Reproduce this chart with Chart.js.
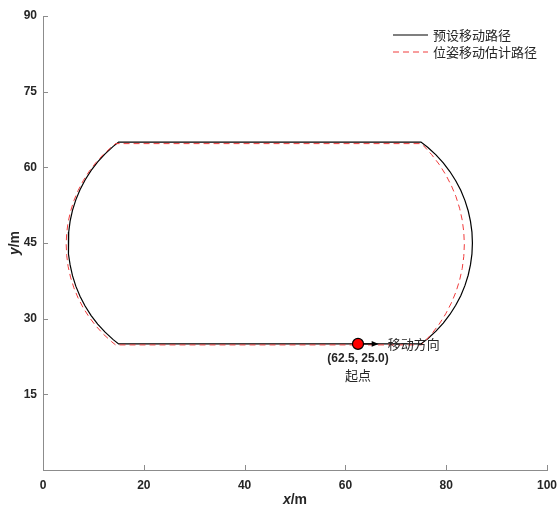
<!DOCTYPE html>
<html lang="zh">
<head>
<meta charset="UTF-8">
<title>移动路径</title>
<script src="https://cdn.jsdelivr.net/npm/chart.js"></script>
<style>
  body { margin: 0; background: #fff; }
  #wrap { width: 559px; height: 509px; }
</style>
</head>
<body>
<div id="wrap"><canvas id="pathChart"></canvas></div>
<script>
  // preset path (black solid): start -> bottom -> right arc -> top -> left arc -> back to start
  const presetX = [62.5,
    75, 76.38, 77.97, 79.42, 80.73, 81.89, 82.89, 83.71, 84.36, 84.82, 85.11, 85.2,
    85.11, 84.82, 84.36, 83.71, 82.89, 81.89, 80.73, 79.42, 77.97, 76.38, 75,
    15, 13.93, 12.32, 10.85, 9.52, 8.35, 7.34, 6.51, 5.85, 5.38, 5.1, 5,
    5.1, 5.38, 5.85, 6.51, 7.34, 8.35, 9.52, 10.85, 12.32, 13.93, 15,
    62.5];
  const presetY = [25,
    25, 26.08, 27.53, 29.12, 30.83, 32.65, 34.56, 36.55, 38.61, 40.71, 42.85, 45,
    47.15, 49.29, 51.39, 53.45, 55.44, 57.35, 59.17, 60.88, 62.47, 63.92, 65,
    65, 64.15, 62.68, 61.07, 59.34, 57.5, 55.57, 53.55, 51.47, 49.34, 47.18, 45,
    42.82, 40.66, 38.53, 36.45, 34.43, 32.5, 30.66, 28.93, 27.32, 25.85, 25,
    25];

  // estimated path (red dashed)
  const estX = [62.5,
    75.07, 75.52, 77.14, 78.61, 79.9, 81.01, 81.94, 82.66, 83.18, 83.49, 83.6,
    83.49, 83.18, 82.66, 81.94, 81.01, 79.9, 78.61, 77.14, 75.52, 75.07,
    14.4, 13.6, 11.98, 10.5, 9.16, 7.98, 6.96, 6.12, 5.46, 4.98, 4.7, 4.6,
    4.7, 4.98, 5.46, 6.12, 6.96, 7.98, 9.16, 10.5, 11.98, 13.6, 14.4,
    62.5];
  const estY = [24.8,
    24.8, 25.23, 27.01, 28.92, 30.95, 33.09, 35.31, 37.61, 39.96, 42.34, 44.75,
    47.16, 49.54, 51.89, 54.19, 56.41, 58.55, 60.58, 62.49, 64.27, 64.7,
    64.7, 64.05, 62.57, 60.95, 59.2, 57.35, 55.4, 53.37, 51.27, 49.13, 46.95, 44.75,
    42.55, 40.37, 38.23, 36.13, 34.1, 32.15, 30.3, 28.55, 26.93, 25.45, 24.8,
    24.8];

  const startPoint = [62.5, 25.0];
  const arrowEnd = [66.6, 25.0];
  const legendLabels = ['预设移动路径', '位姿移动估计路径'];
  const startLabel = '(62.5, 25.0)';
  const startName = '起点';
  const dirLabel = '移动方向';
  const xTicks = [0, 100, 20];
  const yTicks = [0, 90, 15];

  const toPts = (xs, ys) => xs.map((x, i) => ({ x: x, y: ys[i] }));

  const axisGray = '#8c8c8c';
  const textCol = '#262626';
  const estRed = 'rgb(240,60,60)';

  const extras = {
    id: 'extras',
    afterDatasetsDraw(chart) {
      const c = chart.ctx, xs = chart.scales.x, ys = chart.scales.y;
      const x0 = xs.getPixelForValue(startPoint[0]) + 6;
      const y0 = ys.getPixelForValue(startPoint[1]);
      const x1 = xs.getPixelForValue(arrowEnd[0]);
      c.save();
      c.strokeStyle = '#000';
      c.fillStyle = '#000';
      c.lineWidth = 1.2;
      c.beginPath();
      c.moveTo(x0, y0);
      c.lineTo(x1 - 4, y0);
      c.stroke();
      c.beginPath();
      c.moveTo(x1, y0);
      c.lineTo(x1 - 7, y0 - 2.8);
      c.lineTo(x1 - 7, y0 + 2.8);
      c.closePath();
      c.fill();
      c.restore();
    },
    afterDraw(chart) {
      const c = chart.ctx, xs = chart.scales.x, ys = chart.scales.y;
      const area = chart.chartArea;
      c.save();

      // inward tick marks
      c.strokeStyle = axisGray;
      c.lineWidth = 1;
      xs.ticks.forEach((t, i) => {
        const px = Math.round(xs.getPixelForTick(i)) + 0.5;
        c.beginPath();
        c.moveTo(px, area.bottom);
        c.lineTo(px, area.bottom - 5);
        c.stroke();
      });
      ys.ticks.forEach((t, i) => {
        const py = Math.round(ys.getPixelForTick(i)) + 0.5;
        c.beginPath();
        c.moveTo(area.left, py);
        c.lineTo(area.left + 5, py);
        c.stroke();
      });

      // axis titles with italic variable
      c.fillStyle = textCol;
      c.textBaseline = 'middle';
      const drawTitle = (v, u, cx, cy, rot) => {
        c.save();
        c.translate(cx, cy);
        if (rot) c.rotate(-Math.PI / 2);
        c.font = 'italic bold 14px "Liberation Sans", Arial, sans-serif';
        const w1 = c.measureText(v).width;
        c.font = 'bold 14px "Liberation Sans", Arial, sans-serif';
        const w2 = c.measureText(u).width;
        const sx = -(w1 + w2) / 2;
        c.textAlign = 'left';
        c.font = 'italic bold 14px "Liberation Sans", Arial, sans-serif';
        c.fillText(v, sx, 0);
        c.font = 'bold 14px "Liberation Sans", Arial, sans-serif';
        c.fillText(u, sx + w1, 0);
        c.restore();
      };
      drawTitle('x', '/m', (area.left + area.right) / 2, 500, false);
      drawTitle('y', '/m', 15, (area.top + area.bottom) / 2, true);

      // legend
      const lx = 393, ly = 35, gap = 17;
      c.lineWidth = 1.2;
      c.strokeStyle = '#000';
      c.beginPath(); c.moveTo(lx, ly); c.lineTo(lx + 35, ly); c.stroke();
      c.strokeStyle = estRed;
      c.lineWidth = 1;
      c.setLineDash([6, 4]);
      c.beginPath(); c.moveTo(lx, ly + gap); c.lineTo(lx + 35, ly + gap); c.stroke();
      c.setLineDash([]);
      c.fillStyle = textCol;
      c.textAlign = 'left';
      c.font = '13px "Noto Sans CJK SC", sans-serif';
      c.fillText(legendLabels[0], lx + 40, ly);
      c.fillText(legendLabels[1], lx + 40, ly + gap);

      // start point annotations
      const sx = xs.getPixelForValue(startPoint[0]);
      const sy = ys.getPixelForValue(startPoint[1]);
      c.font = '13px "Noto Sans CJK SC", sans-serif';
      c.fillText(dirLabel, xs.getPixelForValue(arrowEnd[0]) + 9, sy);
      c.textAlign = 'center';
      c.font = 'bold 12px "Liberation Sans", Arial, sans-serif';
      c.fillText(startLabel, sx, sy + 15);
      c.font = '13px "Noto Sans CJK SC", sans-serif';
      c.fillText(startName, sx, sy + 31);
      c.restore();
    }
  };

  const ctx = document.getElementById('pathChart').getContext('2d');
  const chart = new Chart(ctx, {
    type: 'scatter',
    data: {
      datasets: [
        {
          label: 'start',
          data: [{ x: startPoint[0], y: startPoint[1] }],
          pointRadius: 5.5,
          pointBackgroundColor: '#ff0000',
          pointBorderColor: '#000',
          pointBorderWidth: 1.2,
          order: 0
        },
        {
          label: legendLabels[1],
          data: toPts(estX, estY),
          showLine: true,
          borderColor: estRed,
          borderWidth: 1,
          borderDash: [6, 4],
          pointRadius: 0,
          tension: 0,
          order: 1
        },
        {
          label: legendLabels[0],
          data: toPts(presetX, presetY),
          showLine: true,
          borderColor: '#000',
          borderWidth: 1.2,
          pointRadius: 0,
          tension: 0,
          order: 2
        }
      ]
    },
    options: {
      responsive: true,
      maintainAspectRatio: false,
      animation: false,
      layout: { padding: { left: 0, right: 12, top: 16, bottom: 0 } },
      plugins: {
        legend: { display: false },
        tooltip: { enabled: false }
      },
      scales: {
        x: {
          type: 'linear',
          min: xTicks[0], max: xTicks[1],
          ticks: {
            stepSize: xTicks[2],
            padding: 8,
            color: textCol,
            font: { family: '"Liberation Sans", Arial, sans-serif', size: 12, weight: 'bold' }
          },
          grid: { drawOnChartArea: false, drawTicks: false },
          border: { color: axisGray, width: 1 },
          afterFit: s => { s.height = 39; s.paddingRight = 0; s.paddingLeft = 0; }
        },
        y: {
          type: 'linear',
          min: yTicks[0], max: yTicks[1],
          ticks: {
            stepSize: yTicks[2],
            padding: 6,
            color: textCol,
            font: { family: '"Liberation Sans", Arial, sans-serif', size: 12, weight: 'bold' },
            callback: v => (v === 0 ? '' : v)
          },
          grid: { drawOnChartArea: false, drawTicks: false },
          border: { color: axisGray, width: 1 },
          afterFit: s => { s.width = 43; s.paddingTop = 0; s.paddingBottom = 0; }
        }
      }
    },
    plugins: [extras]
  });
</script>
</body>
</html>
